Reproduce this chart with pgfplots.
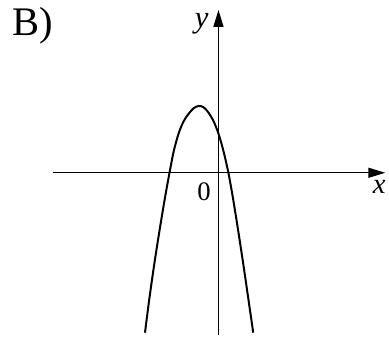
\documentclass[border=0pt]{standalone}
\usepackage{fontspec}
\setmainfont{Liberation Serif}
\usepackage{pgfplots}
\pgfplotsset{compat=1.18}
\usetikzlibrary{arrows.meta}

% curve (1 unit = 10 px, origin at the axes' crossing)
\pgfplotstableread{
x     y
-7.4  -16.1
-6.95 -12.6
-6.45 -9.1
-5.95 -5.9
-5.42 -2.7
-4.93  0
-4.5   2.2
-4.0   4.0
-3.5   5.2
-3.0   5.95
-2.5   6.5
-2.0   6.73
-1.5   6.6
-1.0   6.05
-0.5   5.2
 0.0   3.95
 0.5   2.2
 1.0   0
 1.45 -2.5
 1.95 -5.6
 2.47 -9.0
 2.98 -12.5
 3.5  -16.1
}\parabola

\begin{document}
\begin{tikzpicture}
\begin{axis}[
  scale only axis,
  width=389bp, height=344bp,
  xmin=-22, xmax=16.9,
  ymin=-17, ymax=17.4,
  hide axis,
  clip=false,
]
\path (rel axis cs:0,0) rectangle (rel axis cs:1,1);
\draw[line width=1.4bp, -{Triangle[length=17bp,width=10bp]}] (axis cs:-16.7,0) -- (axis cs:16.8,0);
\draw[line width=1.4bp, -{Triangle[length=17bp,width=10bp]}] (axis cs:0,-16.3) -- (axis cs:0,16.4);
\addplot[smooth, line width=2bp, black] table {\parabola};
\node[font=\fontsize{41}{48}\selectfont] at (axis cs:-18.7,14.8) {B)};
\node[font=\fontsize{31}{36}\selectfont\itshape] at (axis cs:-1.7,15.0) {y};
\node[font=\fontsize{29}{34}\selectfont\itshape] at (axis cs:16.2,-1.4) {x};
\node[font=\fontsize{27}{32}\selectfont] at (axis cs:-1.45,-1.9) {0};
\end{axis}
\end{tikzpicture}
\end{document}
